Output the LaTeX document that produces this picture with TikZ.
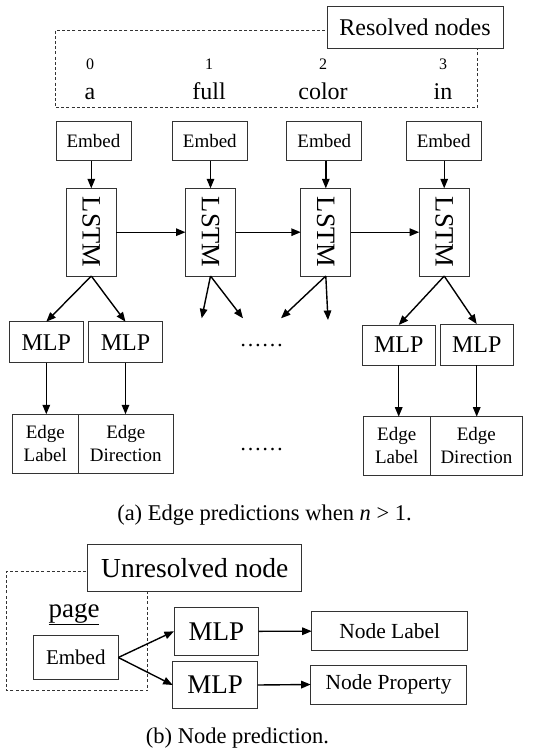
\documentclass[tikz,border=0pt]{standalone}
\usepackage{fontspec}
\setmainfont{Liberation Serif}
\usetikzlibrary{arrows.meta}
\newcommand{\fsz}[1]{\fontsize{#1}{#1}\selectfont}
\tikzset{
  box/.style={draw=black!80, line width=0.9pt, fill=white, inner sep=0pt, outer sep=0pt},
  arr/.style={line width=1.4pt, -{Triangle[length=9.5pt,width=7.5pt]}},
  dash box/.style={draw=black!80, line width=0.8pt, dash pattern=on 3pt off 2.2pt},
  txt/.style={inner sep=0pt, anchor=base}
}
\begin{document}
\begin{tikzpicture}[x=1pt,y=-1pt]
\useasboundingbox (0,0) rectangle (544,749);
% ---------- (a) ----------
\draw[dash box] (55,30.7) rectangle (477,107.7);
\node[box, minimum width=176pt, minimum height=41.6pt, font=\fsz{24}] (res) at (415,27.5) {Resolved nodes};
\foreach \x/\d/\w [count=\i] in {90/0/a, 209/1/full, 323/2/color, 443/3/in}{
  \node[txt, font=\fsz{16}] (d\i) at (\x,70) {\d};
  \node[txt, font=\fsz{24}] (w\i) at (\x,99.3) {\w};
}
% Embed boxes
\foreach \x [count=\i] in {93.5, 209.8, 324.3, 443.7}{
  \node[box, minimum width=75pt, minimum height=39pt, font=\fsz{19}] (e\i) at (\x,141.2) {Embed};
}
% LSTM boxes
\foreach \x [count=\i] in {91.3, 210.5, 325.8, 444.2}{
  \node[box, minimum width=50pt, minimum height=87.7pt, font=\fsz{26.5}] (l\i) at (\x,232.2) {\rotatebox{-90}{LSTM}};
  \draw[arr] (l\i.north |- e\i.south) -- (l\i.north);
}
\draw[arr] (l1.east) -- (l2.west);
\draw[arr] (l2.east) -- (l3.west);
\draw[arr] (l3.east) -- (l4.west);
% MLPs (a)
\node[box, minimum width=74pt, minimum height=41pt, font=\fsz{24}] (m1) at (46.3,342.2) {MLP};
\node[box, minimum width=74.4pt, minimum height=41pt, font=\fsz{24}] (m2) at (125.5,342.2) {MLP};
\node[box, minimum width=72.7pt, minimum height=40pt, font=\fsz{24}] (m3) at (398.7,345) {MLP};
\node[box, minimum width=73.3pt, minimum height=41pt, font=\fsz{24}] (m4) at (476.7,344.5) {MLP};
\draw[arr] (l1.south) -- (m1.north);
\draw[arr] (l1.south) -- (m2.north);
\draw[arr] (l4.south) -- (m3.north);
\draw[arr] (l4.south) -- (m4.north);
\coordinate (c2a) at (201.7,318.3);
\coordinate (c2b) at (243,318.3);
\coordinate (c3a) at (281,318.3);
\coordinate (c3b) at (328,320);
\draw[arr] (l2.south) -- (c2a);
\draw[arr] (l2.south) -- (c2b);
\draw[arr] (l3.south) -- (c3a);
\draw[arr] (l3.south) -- (c3b);
% Edge boxes
\tikzset{ebox/.style={box, font=\fontsize{19}{23}\selectfont, align=center}}
\node[ebox, minimum width=66pt, minimum height=59pt] (el1) at (45.3,443.8) {Edge\\Label};
\node[ebox, minimum width=95pt, minimum height=59pt] (ed1) at (125.8,443.8) {Edge\\Direction};
\node[ebox, minimum width=66.7pt, minimum height=58.3pt] (el2) at (396.7,445.8) {Edge\\Label};
\node[ebox, minimum width=92.7pt, minimum height=58.3pt] (ed2) at (476.4,445.8) {Edge\\Direction};
\draw[arr] (m1.south) -- (m1.south |- el1.north);
\draw[arr] (m2.south) -- (m2.south |- ed1.north);
\draw[arr] (m3.south) -- (m3.south |- el2.north);
\draw[arr] (m4.south) -- (m4.south |- ed2.north);
% dots
\node[txt, font=\fsz{22}] (dots1) at (261.7,346) {……};
\node[txt, font=\fsz{22}] (dots2) at (261.7,450) {……};
% caption a
\node[txt, font=\fsz{22.5}] (capa) at (264.5,520) {(a) Edge predictions when \textit{n} > 1.};
% ---------- (b) ----------
\coordinate (dtr) at (147.7,591);
\coordinate (dbr) at (147.7,690.7);
\coordinate (dbl) at (6.7,690.7);
\coordinate (dtl) at (6.7,571);
\coordinate (dte) at (87.7,571);
\draw[dash box] (dtr) -- (dbr) -- (dbl) -- (dtl) -- (dte);
\node[box, minimum width=214pt, minimum height=46.7pt, font=\fsz{27.5}] (un) at (194.7,567.7) {Unresolved node};
\node[txt, font=\fsz{27}] (page) at (74,617.3) {\underline{page}};
\node[box, minimum width=85pt, minimum height=43.6pt, font=\fsz{21}] (eb) at (75.8,657.5) {Embed};
\node[box, minimum width=84.7pt, minimum height=47.3pt, font=\fsz{27}] (mt) at (216.3,631.3) {MLP};
\node[box, minimum width=85pt, minimum height=46.6pt, font=\fsz{27}] (mb) at (215.2,685) {MLP};
\node[box, minimum width=156pt, minimum height=39pt, font=\fsz{21.5}] (nl) at (389.7,631.2) {Node Label};
\node[box, minimum width=156pt, minimum height=39pt, font=\fsz{21.5}] (np) at (388.7,684.5) {Node Property};
\draw[arr] (eb.east) -- (mt.west);
\draw[arr] (eb.east) -- (mb.west);
\draw[arr] (mt.east) -- (nl.west);
\draw[arr] (mb.east) -- (np.west);
\node[txt, font=\fsz{22.5}] (capb) at (237.5,743) {(b) Node prediction.};
\end{tikzpicture}
\end{document}
